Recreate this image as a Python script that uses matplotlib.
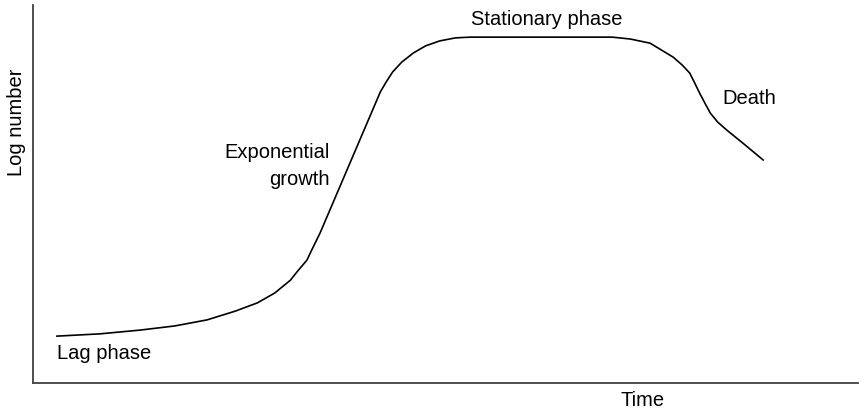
import matplotlib.pyplot as plt

# growth curve (time and log number in arbitrary 0-100 units)
time = [2.9, 8.1, 13.0, 17.2, 21.1, 24.5, 27.2, 29.3, 31.2, 32.0, 33.2, 33.9, 34.8,
        42.1, 42.8, 43.6, 44.7, 46.1, 47.6, 49.3, 51.2, 53.0,
        70.2, 72.4, 74.8, 77.6, 78.7, 79.6, 80.2, 80.8, 81.5, 82.1, 83.0, 84.1,
        86.3, 88.5]
log_number = [12.4, 13.0, 14.0, 15.1, 16.7, 19.0, 21.2, 23.8, 27.2, 29.4, 32.5, 35.7, 39.7,
              77.0, 79.6, 82.3, 84.9, 87.3, 89.2, 90.5, 91.3, 91.5,
              91.5, 91.0, 89.9, 86.2, 84.1, 82.0, 79.4, 76.7, 73.8, 71.4, 69.0, 66.9,
              63.0, 59.0]

plt.rcParams['font.family'] = ['Liberation Sans', 'DejaVu Sans']

W, H = 861, 413
fig = plt.figure(figsize=(W / 100, H / 100), dpi=100)
# axes box in pixels: left 33, right 858, top 5, bottom 383
ax = fig.add_axes([33 / W, 30 / H, 825 / W, 378 / H])

ax.plot(time, log_number, color='black', lw=1.2, solid_joinstyle='round')
ax.set_xlim(0, 100)
ax.set_ylim(0, 100)

ax.spines['top'].set_visible(False)
ax.spines['right'].set_visible(False)
for s in ['left', 'bottom']:
    ax.spines[s].set_color('#404040')
    ax.spines[s].set_linewidth(1.3)
ax.set_xticks([])
ax.set_yticks([])

fs = 14.5


def px_text(x, y, s, **kw):
    # place a label by its pixel position on the canvas (y measured from top)
    fig.text(x / W, 1 - y / H, s, fontsize=fs, va='baseline', **kw)


px_text(57, 359, 'Lag phase', ha='left')
px_text(330, 158, 'Exponential', ha='right')
px_text(330, 185, 'growth', ha='right')
px_text(547, 25, 'Stationary phase', ha='center')
px_text(722, 104, 'Death', ha='left')
px_text(643, 406, 'Time', ha='center')

fig.text(17 / W, 1 - 122 / H, 'Log number', fontsize=fs, rotation=90,
         va='center', ha='center')

plt.savefig('out.png', dpi=100)
